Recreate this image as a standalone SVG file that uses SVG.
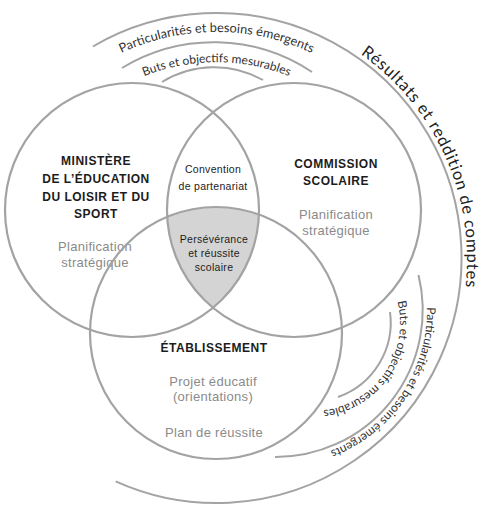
<svg xmlns="http://www.w3.org/2000/svg" width="480" height="506" viewBox="0 0 480 506">
  <style>
    .ring{fill:none;stroke:#a3a3a3;stroke-width:2.2}
    .arc{fill:none;stroke:#a3a3a3;stroke-width:2}
    .core{fill:#d4d4d4;stroke:none}
    .head{font-family:"Liberation Sans",Arial,sans-serif;font-size:12px;font-weight:bold;fill:#1c1c1c;text-anchor:middle;letter-spacing:0.5px}
    .sub{font-family:"Liberation Sans",Arial,sans-serif;font-size:13px;fill:#8a8a8a;text-anchor:middle;letter-spacing:0.3px}
    .mid{font-family:"Liberation Sans",Arial,sans-serif;font-size:10.5px;fill:#1c1c1c;text-anchor:middle;letter-spacing:0.3px}
    .curve{font-family:Lato,"Open Sans",sans-serif;font-size:12px;fill:#333}
    .wide{font-size:12.8px}
    .big{font-family:Lato,"Open Sans",sans-serif;font-size:16.5px;fill:#222;letter-spacing:0.8px}
  </style>
  <defs>
    <!-- baselines for the curved captions -->
    <path id="topOuter" d="M71.2,84.9 A226,226 0 0 1 361.8,84.9"/>
    <path id="topInner" d="M90.5,108.0 A196.5,196.5 0 0 1 342.5,108.0"/>
    <path id="sideOuter" d="M427,307.4 A151,151 0 0 1 276,461"/>
    <path id="sideInner" d="M397.4,301.7 A88,88 0 0 1 296.7,409.7"/>
    <path id="results" d="M360.4,54.2 A250,250 0 0 1 458.5,323.7"/>
  </defs>

  <!-- shared core of the three circles -->
  <path id="core" class="core" d="M167.2,216.8 A126,126 0 0 1 258.9,214.5 A127,127 0 0 1 213,307.8 A127,127 0 0 1 167.2,216.8 Z"/>

  <!-- surrounding arcs -->
  <g id="connectors">
    <path class="arc" d="M92.9,46.5 A245,245 0 1 1 115.7,481.3"/>
    <path class="arc" d="M122,68 A177,177 0 0 1 312,72"/>
    <path class="arc" d="M162,82 A100,100 0 0 1 263,80"/>
    <path class="arc" d="M418.5,275 A147,147 0 0 1 275,457"/>
    <path class="arc" d="M390,312 A79,79 0 0 1 338,397"/>
  </g>

  <g id="ministere">
    <circle class="ring" cx="132" cy="210" r="127"/>
    <text class="head" x="96" y="165">MINISTÈRE</text>
    <text class="head" x="96" y="183">DE L’ÉDUCATION</text>
    <text class="head" x="96" y="201">DU LOISIR ET DU</text>
    <text class="head" x="96" y="218">SPORT</text>
    <text class="sub" x="95" y="251">Planification</text>
    <text class="sub" x="95" y="267">stratégique</text>
  </g>

  <g id="commission">
    <circle class="ring" cx="294" cy="210" r="127"/>
    <text class="head" x="336" y="168">COMMISSION</text>
    <text class="head" x="336" y="185">SCOLAIRE</text>
    <text class="sub" x="336" y="219">Planification</text>
    <text class="sub" x="336" y="235">stratégique</text>
  </g>

  <g id="etablissement">
    <circle class="ring" cx="216" cy="333" r="126"/>
    <text class="head" x="214" y="352">ÉTABLISSEMENT</text>
    <text class="sub" x="213" y="386">Projet éducatif</text>
    <text class="sub" x="213" y="401">(orientations)</text>
    <text class="sub" x="214" y="437">Plan de réussite</text>
  </g>

  <g id="convention">
    <text class="mid" x="213" y="173">Convention</text>
    <text class="mid" x="213" y="190">de partenariat</text>
  </g>

  <g id="perseverance">
    <text class="mid" x="214" y="243">Persévérance</text>
    <text class="mid" x="214" y="257">et réussite</text>
    <text class="mid" x="214" y="271">scolaire</text>
  </g>

  <g id="captions">
    <text class="curve wide"><textPath href="#topOuter" startOffset="50%" text-anchor="middle">Particularités et besoins émergents</textPath></text>
    <text class="curve"><textPath href="#topInner" startOffset="50%" text-anchor="middle">Buts et objectifs mesurables</textPath></text>
    <text class="curve"><textPath href="#sideOuter">Particularités et besoins émergents</textPath></text>
    <text class="curve"><textPath href="#sideInner">Buts et objectifs mesurables</textPath></text>
    <text class="big"><textPath href="#results">Résultats et reddition de comptes</textPath></text>
  </g>
</svg>
